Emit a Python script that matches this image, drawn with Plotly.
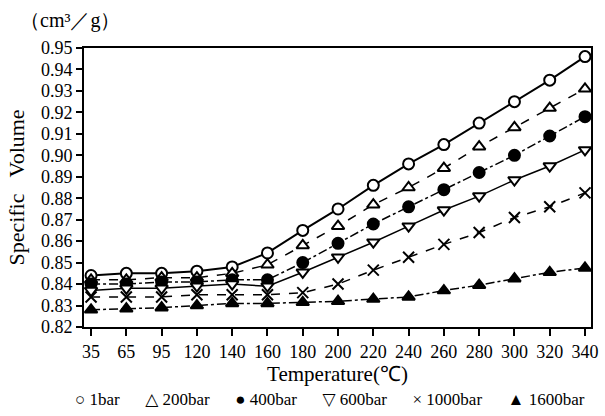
import plotly.graph_objects as go

temps = ["35", "65", "95", "120", "140", "160", "180", "200", "220", "240", "260", "280", "300", "320", "340"]
v1bar = [0.844, 0.845, 0.845, 0.846, 0.848, 0.8545, 0.865, 0.875, 0.886, 0.896, 0.905, 0.915, 0.925, 0.935, 0.946]
v200bar = [0.842, 0.842, 0.843, 0.843, 0.845, 0.849, 0.858, 0.867, 0.877, 0.885, 0.894, 0.904, 0.913, 0.922, 0.931]
v400bar = [0.840, 0.840, 0.841, 0.841, 0.842, 0.842, 0.850, 0.859, 0.868, 0.876, 0.884, 0.892, 0.900, 0.909, 0.918]
v600bar = [0.837, 0.838, 0.838, 0.839, 0.840, 0.839, 0.8455, 0.8525, 0.8595, 0.867, 0.8745, 0.881, 0.8885, 0.895, 0.9025]
v1000bar = [0.834, 0.834, 0.834, 0.835, 0.835, 0.835, 0.836, 0.840, 0.8465, 0.8525, 0.8585, 0.864, 0.871, 0.876, 0.8825]
v1600bar = [0.828, 0.8285, 0.829, 0.830, 0.831, 0.831, 0.8315, 0.832, 0.833, 0.834, 0.837, 0.8395, 0.8425, 0.8455, 0.8475]

# name, values, symbol, fill, line dash, line width, legend glyph
series = [
    ("1bar", v1bar, "circle", "white", "solid", 2, "○"),
    ("200bar", v200bar, "triangle-up", "white", "dash", 1.5, "△"),
    ("400bar", v400bar, "circle", "black", "dashdot", 1.5, "●"),
    ("600bar", v600bar, "triangle-down", "white", "solid", 1.5, "▽"),
    ("1000bar", v1000bar, "x-thin", "black", "dash", 1.5, "×"),
    ("1600bar", v1600bar, "triangle-up", "black", "dashdot", 1.5, "▲"),
]

FONT = "Liberation Serif"
fig = go.Figure()
for name, vals, sym, fill, dash, w, glyph in series:
    fig.add_trace(go.Scatter(
        x=temps, y=vals, mode="lines+markers", name=name, showlegend=False,
        line=dict(color="black", width=w, dash=dash),
        marker=dict(symbol=sym, size=11, color=fill,
                    line=dict(color="black", width=2)),
    ))

legend_text = "      ".join(f"{glyph} {name}" for name, _, _, _, _, _, glyph in series)

fig.update_layout(
    width=605, height=416,
    margin=dict(l=84, r=7, t=48, b=89),
    paper_bgcolor="white", plot_bgcolor="white",
    font=dict(family=FONT, size=18, color="black"),
    showlegend=False,
    xaxis=dict(type="category", range=[-0.2, 14.17], showgrid=False,
               showline=True, linecolor="black", linewidth=2, mirror=True,
               ticks="outside", ticklen=7, tickwidth=1.5, tickcolor="black",
               tickfont=dict(size=18),
               title=dict(text="Temperature(℃)", font=dict(size=21), standoff=4)),
    yaxis=dict(range=[0.82, 0.95], dtick=0.01, tick0=0.82, tickformat=".2f",
               showgrid=False, zeroline=False,
               showline=True, linecolor="black", linewidth=2, mirror=True,
               ticks="outside", ticklen=6, tickwidth=1.5, tickcolor="black",
               tickfont=dict(size=18),
               title=dict(text="Specific   Volume", font=dict(size=22), standoff=10)),
    annotations=[
        dict(text="（cm³／g）", xref="paper", yref="paper", x=-0.13, y=1.05,
             xanchor="left", yanchor="bottom", showarrow=False, font=dict(size=20)),
        dict(text=legend_text, xref="paper", yref="paper", x=0.485, y=-0.26,
             xanchor="center", yanchor="middle", showarrow=False,
             font=dict(size=17, family="Liberation Serif, DejaVu Sans")),
    ],
)
fig.write_html("out.html")
